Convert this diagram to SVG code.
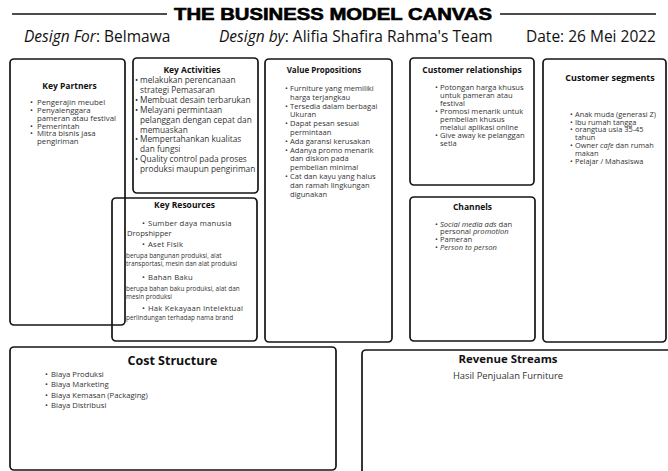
<svg xmlns="http://www.w3.org/2000/svg" width="668" height="471" viewBox="0 0 668 471">
<style>
.box{fill:none;stroke:#151515;stroke-width:1.7}
.t{font-family:"Open Sans","Liberation Sans",sans-serif;fill:#333;font-size:7.6px}
.h{font-family:"Open Sans","Liberation Sans",sans-serif;font-weight:700;fill:#111;text-anchor:middle;font-size:8.5px}
.i{font-style:italic}
.kr1{font-size:7.7px;letter-spacing:0.2px}
.kr2{font-size:6.4px}
.sub{font-family:"Open Sans","Liberation Sans",sans-serif;font-size:15.5px;fill:#111}
</style>
<rect width="668" height="471" fill="#fff"/>
<g id="header">
<line x1="12" y1="14" x2="167" y2="14" stroke="#111" stroke-width="1.6"/>
<line x1="500" y1="14" x2="656" y2="14" stroke="#111" stroke-width="1.6"/>
<text x="333" y="20" text-anchor="middle" font-family="Liberation Sans, Arial, sans-serif" font-weight="900" font-size="16" fill="#000" stroke="#000" stroke-width="0.6" textLength="318" lengthAdjust="spacingAndGlyphs">THE BUSINESS MODEL CANVAS</text>
<text class="sub" x="24" y="42"><tspan class="i">Design For</tspan>: Belmawa</text>
<text class="sub" x="219" y="42"><tspan class="i">Design by</tspan>: Alifia Shafira Rahma's Team</text>
<text class="sub" x="526" y="42">Date: 26 Mei 2022</text>
</g>
<g id="connectors"></g>
<g id="key-partners">
<rect class="box" x="10" y="59" width="115" height="266" rx="4"/>
<text class="h" x="69.5" y="89">Key Partners</text>
<text class="t" style="font-size:7.8px"><tspan x="30" y="104.8">•</tspan><tspan x="37">Pengerajin meubel</tspan><tspan x="30" y="112.6">•</tspan><tspan x="37">Penyalenggara</tspan><tspan x="37" y="120.6">pameran atau festival</tspan><tspan x="30" y="128.5">•</tspan><tspan x="37">Pemerintah</tspan><tspan x="30" y="136.4">•</tspan><tspan x="37">Mitra bisnis jasa</tspan><tspan x="37" y="144.2">pengiriman</tspan></text>
</g>
<g id="key-activities">
<rect class="box" x="133" y="58" width="125" height="135" rx="4"/>
<text class="h" x="192" y="73">Key Activities</text>
<text class="t" style="font-size:8.3px"><tspan x="135" y="83">•</tspan><tspan x="140">melakukan perencanaan</tspan><tspan x="140" y="92.9">strategi Pemasaran</tspan><tspan x="135" y="102.8">•</tspan><tspan x="140">Membuat desain terbarukan</tspan><tspan x="135" y="112.7">•</tspan><tspan x="140">Melayani permintaan</tspan><tspan x="140" y="122.6">pelanggan dengan cepat dan</tspan><tspan x="140" y="132.5">memuaskan</tspan><tspan x="135" y="142.4">•</tspan><tspan x="140">Mempertahankan kualitas</tspan><tspan x="140" y="152.3">dan fungsi</tspan><tspan x="135" y="162.2">•</tspan><tspan x="140">Quality control pada proses</tspan><tspan x="140" y="172.1">produksi maupun pengiriman</tspan></text>
</g>
<g id="key-resources">
<rect class="box" x="112" y="198" width="145" height="143" rx="4"/>
<text class="h" x="184.5" y="208">Key Resources</text>
<text class="t"><tspan class="kr1" x="142" y="226">•</tspan><tspan class="kr1" x="148">Sumber daya manusia</tspan><tspan x="127" y="236">Dropshipper</tspan><tspan class="kr1" x="142" y="246.7">•</tspan><tspan class="kr1" x="148">Aset Fisik</tspan><tspan class="kr2" x="126" y="257.8">berupa bangunan produksi,  alat</tspan><tspan class="kr2" x="126" y="266.2">transportasi, mesin dan alat produksi</tspan><tspan class="kr1" x="142" y="280">•</tspan><tspan class="kr1" x="148">Bahan Baku</tspan><tspan class="kr2" x="126" y="290.5">berupa bahan baku produksi, alat dan</tspan><tspan class="kr2" x="126" y="299">mesin produksi</tspan><tspan class="kr1" x="142" y="311">•</tspan><tspan class="kr1" x="148">Hak Kekayaan Intelektual</tspan><tspan class="kr2" x="126" y="319.5">perlindungan terhadap nama brand</tspan></text>
</g>
<g id="value-propositions">
<rect class="box" x="265" y="59" width="127" height="283" rx="4"/>
<text class="h" x="324" y="73" style="font-size:8px">Value Propositions</text>
<text class="t"><tspan x="285" y="91">•</tspan><tspan x="290">Furniture yang memiliki</tspan><tspan x="290" y="99.8">harga terjangkau</tspan><tspan x="285" y="108.6">•</tspan><tspan x="290">Tersedia dalam berbagai</tspan><tspan x="290" y="117.4">Ukuran</tspan><tspan x="285" y="126.2">•</tspan><tspan x="290">Dapat pesan sesuai</tspan><tspan x="290" y="135">permintaan</tspan><tspan x="285" y="143.8">•</tspan><tspan x="290">Ada garansi kerusakan</tspan><tspan x="285" y="152.6">•</tspan><tspan x="290">Adanya promo menarik</tspan><tspan x="290" y="161.4">dan diskon pada</tspan><tspan x="290" y="170.2">pembelian minimal</tspan><tspan x="285" y="179">•</tspan><tspan x="290">Cat dan kayu yang halus</tspan><tspan x="290" y="187.8">dan ramah lingkungan</tspan><tspan x="290" y="196.6">digunakan</tspan></text>
</g>
<g id="customer-relationships">
<rect class="box" x="410" y="58" width="124" height="127" rx="4"/>
<text class="h" x="472" y="73">Customer relationships</text>
<text class="t"><tspan x="435" y="89.8">•</tspan><tspan x="440">Potongan harga khusus</tspan><tspan x="440" y="97.8">untuk pameran atau</tspan><tspan x="440" y="105.8">festival</tspan><tspan x="435" y="113.8">•</tspan><tspan x="440">Promosi menarik untuk</tspan><tspan x="440" y="121.8">pembelian khusus</tspan><tspan x="440" y="129.8">melalui aplikasi online</tspan><tspan x="435" y="137.8">•</tspan><tspan x="440">Give away ke pelanggan</tspan><tspan x="440" y="145.8">setia</tspan></text>
</g>
<g id="channels">
<rect class="box" x="410" y="197" width="125" height="144" rx="4"/>
<text class="h" x="472.5" y="210">Channels</text>
<text class="t"><tspan x="435" y="226.8">•</tspan><tspan x="440"><tspan class="i">Social media ads</tspan>  dan</tspan><tspan x="440" y="234.4">personal <tspan class="i">promotion</tspan></tspan><tspan x="435" y="242.4">•</tspan><tspan x="440">Pameran</tspan><tspan x="435" y="250">•</tspan><tspan class="i" x="440">Person to person</tspan></text>
</g>
<g id="customer-segments">
<rect class="box" x="543" y="59" width="123" height="283" rx="4"/>
<text class="h" x="610" y="81" style="font-size:9px">Customer segments</text>
<text class="t" style="font-size:7.4px"><tspan x="570" y="116.8">•</tspan><tspan x="575">Anak muda (generasi Z)</tspan><tspan x="570" y="124.6">•</tspan><tspan x="575">Ibu rumah tangga</tspan><tspan x="570" y="132.4">•</tspan><tspan x="575">orangtua usia 35-45</tspan><tspan x="575" y="140.2">tahun</tspan><tspan x="570" y="148">•</tspan><tspan x="575">Owner <tspan class="i">cafe</tspan> dan rumah</tspan><tspan x="575" y="155.8">makan</tspan><tspan x="570" y="163.6">•</tspan><tspan x="575">Pelajar / Mahasiswa</tspan></text>
</g>
<g id="cost-structure">
<rect class="box" x="10" y="347" width="326" height="123" rx="4"/>
<text class="h" x="172.5" y="364.5" style="font-size:12.5px">Cost Structure</text>
<text class="t" style="font-size:7.7px"><tspan x="45" y="376.8">•</tspan><tspan x="51">Biaya Produksi</tspan><tspan x="45" y="386.8">•</tspan><tspan x="51">Biaya Marketing</tspan><tspan x="45" y="397.5">•</tspan><tspan x="51">Biaya Kemasan (Packaging)</tspan><tspan x="45" y="408">•</tspan><tspan x="51">Biaya Distribusi</tspan></text>
</g>
<g id="revenue-streams">
<rect class="box" x="362" y="350" width="310" height="126" rx="4"/>
<text class="h" x="508" y="363" style="font-size:11.4px">Revenue Streams</text>
<text class="t" x="508" y="378.5" text-anchor="middle" style="font-size:9.4px">Hasil Penjualan Furniture</text>
</g>
</svg>
